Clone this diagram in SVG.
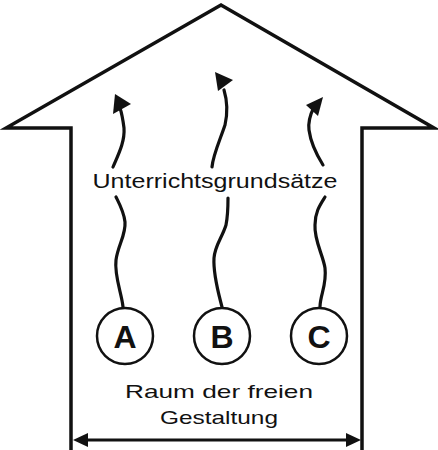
<svg xmlns="http://www.w3.org/2000/svg" width="438" height="450" viewBox="0 0 438 450">
<style>
.outline{fill:none;stroke:#111;stroke-width:3.5;stroke-linejoin:miter}
.wave{fill:none;stroke:#111;stroke-width:3.2;stroke-linecap:round}
.head{fill:#111}
.node circle{fill:#fff;stroke:#111;stroke-width:2.5}
.node text{font-family:"Liberation Sans",Arial,sans-serif;font-weight:bold;font-size:32px;fill:#111;text-anchor:middle}
.lbl{font-family:"Liberation Sans",Arial,sans-serif;fill:#111;text-anchor:middle}
</style>
<g id="house">
<path class="outline" d="M71,452 V128 H6 L221,5 L434,128 H362 V452"/>
</g>
<g id="connectors">
<path class="wave" d="M123,307 C122,295 114,275 116,260 C118,245 126,235 125,222 C124,212 120,205 116,197"/>
<path class="wave" d="M113,167 C118,155 125,142 124,128 C123,120 122,114 120,108"/>
<path class="head" d="M115,94 L131,104 L113,114 Z"/>
<path class="wave" d="M222,307 C219,295 213,275 214,258 C215,245 222,238 226,225 C228,215 228,205 228,198"/>
<path class="wave" d="M212,167 C213,155 220,140 225,125 C228,112 227,100 224,90"/>
<path class="head" d="M215,72 L233,80 L218,91 Z"/>
<path class="wave" d="M320,307 C320,295 327,285 325,268 C323,255 314,240 315,225 C315,212 320,205 325,197"/>
<path class="wave" d="M323,165 C318,157 311,145 309,130 C308,122 311,113 314,107"/>
<path class="head" d="M323,97 L306,105 L318,116 Z"/>
<line x1="88" y1="440" x2="346" y2="440" stroke="#111" stroke-width="3"/>
<path class="head" d="M73,440 L88,433 L88,447 Z"/>
<path class="head" d="M361,440 L346,433 L346,447 Z"/>
</g>
<g id="nodeA" class="node"><circle cx="125" cy="336" r="28"/><text x="125" y="348">A</text></g>
<g id="nodeB" class="node"><circle cx="222" cy="336" r="28"/><text x="222" y="348">B</text></g>
<g id="nodeC" class="node"><circle cx="319" cy="336" r="28"/><text x="319" y="348">C</text></g>
<g id="labels">
<text class="lbl" x="215" y="188" font-size="20.5" textLength="245" lengthAdjust="spacingAndGlyphs">Unterrichtsgrundsätze</text>
<text class="lbl" x="219" y="398" font-size="19" textLength="188" lengthAdjust="spacingAndGlyphs">Raum der freien</text>
<text class="lbl" x="219" y="424" font-size="19" textLength="118" lengthAdjust="spacingAndGlyphs">Gestaltung</text>
</g>
</svg>
